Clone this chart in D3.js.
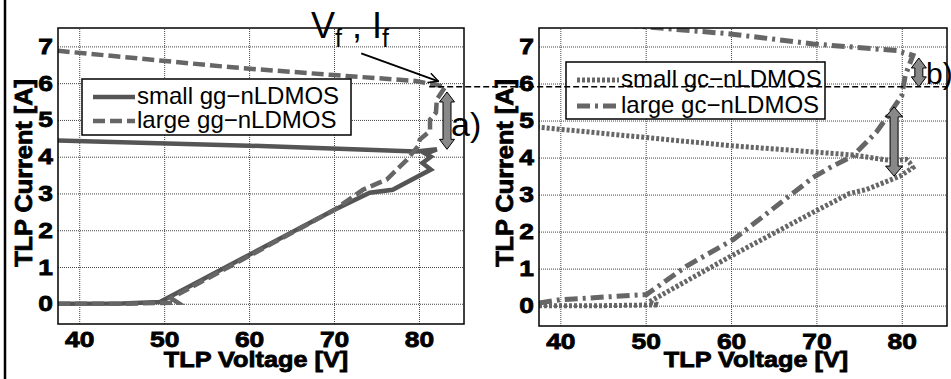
<!doctype html>
<html lang="en">
<head>
<meta charset="utf-8">
<title>TLP curves</title>
<script src="https://cdn.jsdelivr.net/npm/d3@7/dist/d3.min.js"></script>
<style>
  body { margin:0; background:#fff; }
  svg { display:block; font-family:"Liberation Sans", Arial, sans-serif; }
  .heavy { stroke:#000; stroke-width:0.8px; }
</style>
</head>
<body>
<svg width="951" height="379"></svg>
<script>
// tick values
var xTicks = [40, 50, 60, 70, 80];
var yTicks = [0, 1, 2, 3, 4, 5, 6, 7];
var xDomain = [37.5, 85.3];
var yDomain = [-0.55, 7.5];

// left panel: gg-nLDMOS (voltage V, current A)
var smallGGv = [37.5, 45, 49.5, 60, 70, 74.2, 76.9, 81.4, 80.4, 81.4, 80.8, 82.1, 79.7, 60, 37.5];
var smallGGi = [0, 0.01, 0.05, 1.33, 2.55, 3.02, 3.1, 3.65, 3.83, 4.0, 4.08, 4.2, 4.14, 4.3, 4.44];
var largeGGv = [37.5, 45, 51.6, 50.8, 60, 70, 73.4, 76.2, 78.6, 79.9, 80.1, 81.3, 81.3, 82.0, 82.1, 83.1, 79.6, 70, 58, 37.5];
var largeGGi = [0, 0, 0.03, 0.15, 1.3, 2.55, 3.1, 3.38, 3.92, 4.29, 4.47, 4.7, 5.01, 5.2, 5.56, 5.9, 6.06, 6.22, 6.43, 6.88];

// right panel: gc-nLDMOS
var smallGCv = [37.5, 45, 51.5, 50.4, 60, 69.6, 73.9, 75.9, 79.8, 81.3, 80.9, 80.5, 79, 74.3, 60, 50.1, 37.5];
var smallGCi = [0, 0, 0.02, 0.1, 1.34, 2.52, 3.03, 3.14, 3.5, 3.73, 3.87, 3.95, 3.91, 4.07, 4.32, 4.54, 4.82];
var largeGCv = [37.5, 40, 50.1, 54.8, 60.3, 69.6, 71.6, 74.3, 77.0, 78.4, 80, 80.4, 81.3, 79.4, 69.6, 59.9, 50.1, 37.5];
var largeGCi = [0.07, 0.16, 0.3, 1.07, 1.79, 3.46, 3.73, 4.05, 4.68, 5.13, 5.67, 6.21, 6.76, 6.89, 7.07, 7.34, 7.53, 7.8];

var legendLeft = ["small gg\u2212nLDMOS", "large gg\u2212nLDMOS"];
var legendRight = ["small gc\u2212nLDMOS", "large gc\u2212nLDMOS"];

var styles = {
  solid:   {color: "#555", width: 4.5, dash: null},
  dashed:  {color: "#666", width: 4.5, dash: "12,5"},
  dotted:  {color: "#666", width: 5,   dash: "3,2"},
  dashdot: {color: "#666", width: 5,   dash: "13,5,3,5"}
};

var svg = d3.select("svg");

// black rule on the far left
svg.append("line").attr("x1", 5).attr("x2", 5).attr("y1", 0).attr("y2", 379)
  .attr("stroke", "#000").attr("stroke-width", 2.5);

function zip(v, i) { return v.map((d, k) => [d, i[k]]); }

function drawPanel(id, box, series, legend, legBox) {
  var x = d3.scaleLinear().domain(xDomain).range([box.l, box.r]);
  var y = d3.scaleLinear().domain(yDomain).range([box.b, box.t]);
  var g = svg.append("g");

  g.append("clipPath").attr("id", id).append("rect")
    .attr("x", box.l).attr("y", box.t).attr("width", box.r - box.l).attr("height", box.b - box.t);

  // dotted grid
  g.append("g").attr("transform", "translate(0," + box.b + ")")
    .call(d3.axisBottom(x).tickValues(xTicks).tickSize(-(box.b - box.t)).tickFormat(""))
    .call(a => a.select(".domain").remove())
    .selectAll("line").attr("stroke", "#444").attr("stroke-dasharray", "1,1");
  g.append("g").attr("transform", "translate(" + box.l + ",0)")
    .call(d3.axisLeft(y).tickValues(yTicks).tickSize(-(box.r - box.l)).tickFormat(""))
    .call(a => a.select(".domain").remove())
    .selectAll("line").attr("stroke", "#444").attr("stroke-dasharray", "1,1");

  // tick labels (the original type is wide, so stretch it a bit)
  var xa = g.append("g").attr("transform", "translate(0," + box.b + ")")
    .call(d3.axisBottom(x).tickValues(xTicks).tickSize(0).tickPadding(7));
  var ya = g.append("g").attr("transform", "translate(" + box.l + ",0)")
    .call(d3.axisLeft(y).tickValues(yTicks).tickSize(0).tickPadding(5));
  [xa, ya].forEach(a => {
    a.select(".domain").remove();
    a.selectAll("text").attr("fill", "#000").attr("class", "heavy")
      .style("font-size", "22px").style("font-weight", "bold")
      .style("font-family", "'Liberation Sans', Arial, sans-serif");
  });
  xa.selectAll("text").attr("transform", "scale(1.2,1)");
  ya.selectAll("text").attr("x", -5 / 1.2).attr("transform", "scale(1.2,1)");

  // curves
  var line = d3.line().x(d => x(d[0])).y(d => y(d[1]));
  series.forEach(s => {
    var st = styles[s.style];
    g.append("path").attr("clip-path", "url(#" + id + ")")
      .attr("d", line(s.data)).attr("fill", "none")
      .attr("stroke", st.color).attr("stroke-width", st.width)
      .attr("stroke-dasharray", st.dash).attr("stroke-linejoin", "miter");
  });

  // frame
  g.append("rect").attr("x", box.l).attr("y", box.t)
    .attr("width", box.r - box.l).attr("height", box.b - box.t)
    .attr("fill", "none").attr("stroke", "#000").attr("stroke-width", 1.5);

  // legend
  g.append("rect").attr("x", legBox.x).attr("y", legBox.y).attr("width", legBox.w).attr("height", legBox.h)
    .attr("fill", "#fff").attr("stroke", "#000").attr("stroke-width", 1.5);
  legend.forEach((t, k) => {
    var st = styles[series[k].style];
    var ly = legBox.y + legBox.rows[k];
    g.append("line").attr("x1", legBox.x + 11).attr("x2", legBox.x + 53).attr("y1", ly).attr("y2", ly)
      .attr("stroke", st.color).attr("stroke-width", st.width).attr("stroke-dasharray", st.dash);
    g.append("text").attr("x", legBox.x + 55).attr("y", ly + 7).text(t)
      .style("font-size", "24px").attr("fill", "#000");
  });

  // axis titles
  g.append("text").attr("class", "heavy").attr("transform", "translate(" + box.tx + ",367) scale(1.15,1)").attr("text-anchor", "middle")
    .style("font-size", "22px").style("font-weight", "bold").text("TLP Voltage [V]");
  g.append("text").attr("class", "heavy").attr("transform", "translate(" + box.ty + ",173) rotate(-90) scale(1.1,1)").attr("text-anchor", "middle")
    .style("font-size", "23px").style("font-weight", "bold").text("TLP Current [A]");

  return {x: x, y: y};
}

var L = drawPanel("clipL", {l: 58, r: 464, t: 28, b: 324, tx: 256, ty: 32},
  [{data: zip(smallGGv, smallGGi), style: "solid"}, {data: zip(largeGGv, largeGGi), style: "dashed"}],
  legendLeft, {x: 82, y: 79, w: 269, h: 56, rows: [18, 42]});

var R = drawPanel("clipR", {l: 539, r: 947, t: 28, b: 326, tx: 756, ty: 513},
  [{data: zip(smallGCv, smallGCi), style: "dotted"}, {data: zip(largeGCv, largeGCi), style: "dashdot"}],
  legendRight, {x: 566, y: 62, w: 259, h: 57, rows: [18, 44]});

// horizontal reference at the failure current
svg.append("line").attr("x1", L.x(81.2)).attr("x2", 951).attr("y1", L.y(5.9)).attr("y2", L.y(5.9))
  .attr("stroke", "#000").attr("stroke-width", 1.5).attr("stroke-dasharray", "6,3");

// double arrows
function dblArrow(cx, y1, y2, hw) {
  var sw = 4, hl = 10;
  var p = d3.path();
  p.moveTo(cx, y1); p.lineTo(cx + hw, y1 + hl); p.lineTo(cx + sw, y1 + hl);
  p.lineTo(cx + sw, y2 - hl); p.lineTo(cx + hw, y2 - hl); p.lineTo(cx, y2);
  p.lineTo(cx - hw, y2 - hl); p.lineTo(cx - sw, y2 - hl); p.lineTo(cx - sw, y1 + hl);
  p.lineTo(cx - hw, y1 + hl); p.closePath();
  svg.append("path").attr("d", p.toString()).attr("fill", "#888").attr("stroke", "#000").attr("stroke-width", 1);
}
dblArrow(L.x(83.3), L.y(5.76), L.y(4.2), 7.5);
dblArrow(R.x(82.0), R.y(6.69), R.y(5.91), 7.5);
dblArrow(R.x(79.1), R.y(5.37), R.y(3.5), 8.5);

svg.append("text").attr("x", 451).attr("y", 136).style("font-size", "34px").text("a)");
svg.append("text").attr("x", 926).attr("y", 84).style("font-size", "30px").text("b)");

// V_f , I_f label with pointer
var vf = svg.append("text").attr("x", 311).attr("y", 38).style("font-size", "36px");
vf.append("tspan").text("V");
vf.append("tspan").attr("dy", 9).style("font-size", "25px").text("f");
vf.append("tspan").attr("dy", -9).text(" , I");
vf.append("tspan").attr("dy", 9).style("font-size", "25px").text("f");

svg.append("defs").append("marker").attr("id", "open").attr("viewBox", "0 0 12 12")
  .attr("refX", 11).attr("refY", 6).attr("markerWidth", 12).attr("markerHeight", 12)
  .attr("markerUnits", "userSpaceOnUse").attr("orient", "auto")
  .append("path").attr("d", "M1,1 L11,6 L1,11").attr("fill", "none").attr("stroke", "#000").attr("stroke-width", 1.5);
svg.append("line").attr("x1", L.x(73.2)).attr("y1", L.y(6.81)).attr("x2", L.x(82.3)).attr("y2", L.y(6.05))
  .attr("stroke", "#000").attr("stroke-width", 2).attr("marker-end", "url(#open)");
</script>
</body>
</html>
